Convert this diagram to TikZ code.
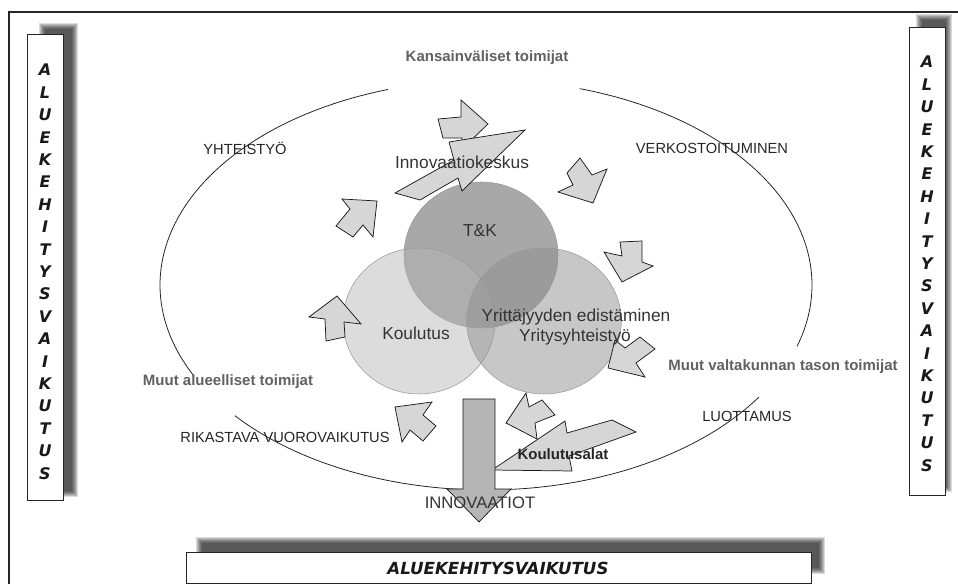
\documentclass[tikz,border=0pt]{standalone}
\usepackage{fontspec}
\setmainfont{Liberation Sans}
\newfontfamily\verdfont{DejaVu Sans}

% soft shadow: stacked translucent rectangles
\newcommand{\softshadow}[4]{%
  \foreach \k in {0,...,6}
    \fill[black, opacity=0.14] (#1+\k,#2+\k) rectangle (#3-\k,#4-\k);}

\begin{document}
\begin{tikzpicture}[
    x=0.75pt, y=-0.75pt,
    frameline/.style={line width=1.6pt, black!85},
    ring/.style={line width=0.6pt, black!85},
    disc/.style={draw=black!40, line width=0.4pt},
    blockarrow/.style={fill=black!16, draw=black!90, line width=0.55pt, line join=miter},
    bigarrow/.style={fill=black!29, draw=black!90, line width=0.55pt},
    sidebox/.style={draw=black!85, line width=0.6pt, fill=white},
    capslabel/.style={font=\fontsize{11}{13}\selectfont, text=black!85, inner sep=0pt},
    actor/.style={font=\bfseries\fontsize{11.25}{13}\selectfont, text=black!62, inner sep=0pt},
    inner/.style={font=\fontsize{13}{15}\selectfont, text=black!80, inner sep=0pt},
    impact/.style={font=\verdfont\bfseries\itshape\fontsize{12.5}{14}\selectfont, text=black!90},
    vletter/.style={font=\verdfont\bfseries\itshape\fontsize{12}{13}\selectfont, text=black!90, inner sep=0pt}
]
    \useasboundingbox (0,0) rectangle (958,584);
    \clip (0,0) rectangle (958,584);

    % frame
    \draw[frameline] (9,590) -- (9,12) -- (965,12);

    % side and bottom boxes with shadows
    \softshadow{39}{23}{78}{497}
    \filldraw[sidebox] (27,34) rectangle (63,500);
    \softshadow{916}{14}{952}{492}
    \filldraw[sidebox] (909,27) rectangle (945,495);
    \softshadow{196}{537}{825}{574}
    \filldraw[sidebox] (186,552) rectangle (811,583);

    \foreach \ch [count=\i from 0] in {A,L,U,E,K,E,H,I,T,Y,S,V,A,I,K,U,T,U,S} {
        \node[vletter] (left\i) at (45,70+22.4*\i) {\ch};
        \node[vletter] (right\i) at (927,62+22.4*\i) {\ch};
    }
    \node[impact] (akv) at (498,568) {ALUEKEHITYSVAIKUTUS};

    % outer ring in three pieces
    \draw[ring] plot[domain=107.5:206.4, samples=80] ({486+326*cos(\x)},{285-205*sin(\x)});
    \draw[ring] plot[domain=219.6:326.8, samples=80] ({486+326*cos(\x)},{285-205*sin(\x)});
    \draw[ring] plot[domain=342.6:433.3, samples=80] ({486+326*cos(\x)},{285-205*sin(\x)});

    % three circles
    \fill[black!34] (481,255) circle[x radius=57.75pt, y radius=54.75pt];
    \draw[disc] (481,255) circle[x radius=57.75pt, y radius=54.75pt];
    \fill[black!29, opacity=0.48] (419,321) circle[x radius=57pt, y radius=54.75pt];
    \draw[disc] (419,321) circle[x radius=57pt, y radius=54.75pt];
    \fill[black!44, opacity=0.5] (544,321) circle[x radius=58pt, y radius=54.75pt];
    \draw[disc] (544,321) circle[x radius=58pt, y radius=54.75pt];

    % block arrows
    \draw[blockarrow] (377,201) -- (373,237) -- (363,225) -- (353,237) -- (336,226) -- (350,209) -- (342,199) -- cycle;
    \draw[blockarrow] (438,119) -- (461,117) -- (461,100) -- (488,124) -- (462,149) -- (462,138) -- (443,138) -- cycle;
    \draw[blockarrow] (395,193) -- (454,160) -- (449,142) -- (525,130) -- (462,191) -- (458,178) -- (420,200) -- cycle;
    \draw[blockarrow] (580,158) -- (567,173) -- (573,185) -- (558,192) -- (593,203) -- (607,169) -- (592,175) -- cycle;
    \draw[blockarrow] (642,241) -- (620,242) -- (622,256) -- (604,252) -- (622,282) -- (653,266) -- (642,262) -- cycle;
    \draw[blockarrow] (608,368) -- (615,340) -- (625,348) -- (640,337) -- (655,349) -- (636,363) -- (645,377) -- cycle;
    \draw[blockarrow] (337,296) -- (361,324) -- (344,322) -- (345,337) -- (326,341) -- (325,319) -- (309,317) -- cycle;
    \draw[blockarrow] (395,407) -- (432,402) -- (423,415) -- (436,426) -- (423,441) -- (410,430) -- (402,442) -- cycle;
    \draw[blockarrow] (506,423) -- (526,393) -- (529,407) -- (542,400) -- (555,415) -- (535,423) -- (537,439) -- cycle;
    \draw[blockarrow] (492,470) -- (565,421) -- (567,433) -- (612,420) -- (636,432) -- (569,456) -- (572,471) -- cycle;

    % innovation output arrow
    \draw[bigarrow] (463,399) -- (495,399) -- (495,489) -- (511,489) -- (479,522) -- (447,489) -- (463,489) -- cycle;

    % labels
    \node[actor] (kv) at (487,58) {Kansainväliset toimijat};
    \node[capslabel] (yht) at (245,148) {YHTEISTYÖ};
    \node[capslabel] (verk) at (712,148) {VERKOSTOITUMINEN};
    \node[inner] (ik) at (462,162) {Innovaatiokeskus};
    \node[inner] (tk) at (480,231) {T\&K};
    \node[inner] (koul) at (416,333) {Koulutus};
    \node[inner] (yed) at (576,317) {Yrittäjyyden edistäminen};
    \node[inner] (yys) at (575,337) {Yritysyhteistyö};
    \node[actor] (mat) at (228,382) {Muut alueelliset toimijat};
    \node[actor] (mvt) at (783,367) {Muut valtakunnan tason toimijat};
    \node[capslabel] (luot) at (747,416) {LUOTTAMUS};
    \node[capslabel] (rik) at (285,437) {RIKASTAVA VUOROVAIKUTUS};
    \node[capslabel, font=\bfseries\fontsize{11.25}{13}\selectfont] (kala) at (563,454) {Koulutusalat};
    \node[inner, font=\fontsize{12.5}{14}\selectfont] (inn) at (480,503) {INNOVAATIOT};
\end{tikzpicture}
\end{document}
